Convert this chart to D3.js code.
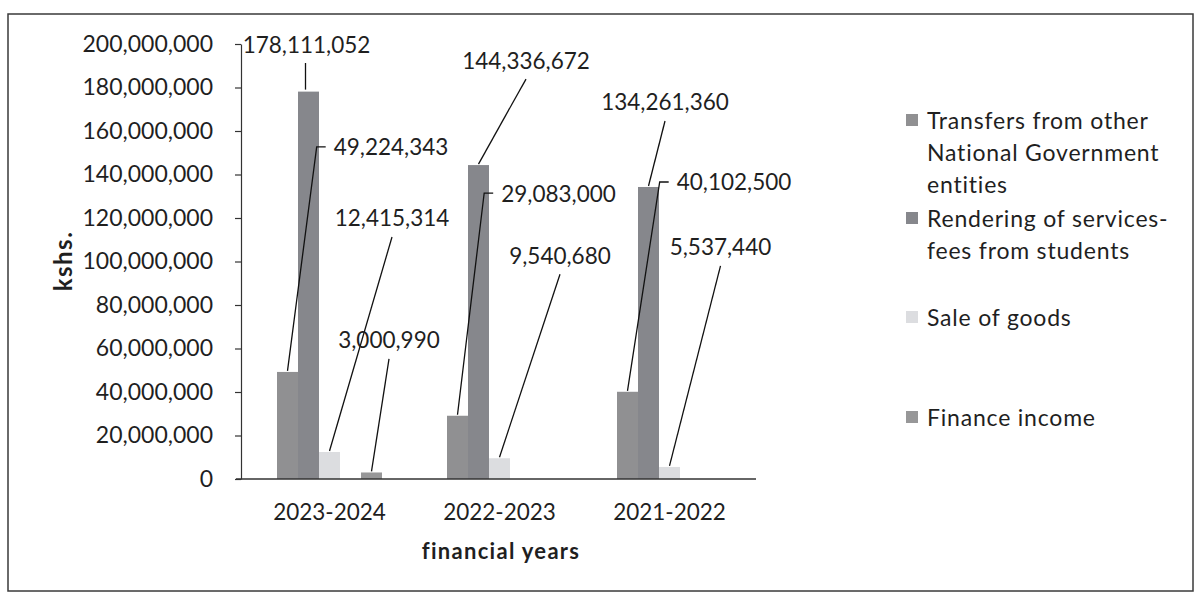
<!DOCTYPE html>
<html>
<head>
<meta charset="utf-8">
<script src="https://cdn.jsdelivr.net/npm/d3@7/dist/d3.min.js"></script>
<style>
  body { margin: 0; background: #ffffff; }
  svg text { font-family: Lato, "Open Sans", sans-serif; fill: #1f1f1f; }
</style>
</head>
<body>
<svg id="chart" width="1203" height="594"></svg>
<script>
// Revenue by source, per financial year (Kshs.)
const years = ["2023-2024", "2022-2023", "2021-2022"];
const transfers = [49224343, 29083000, 40102500];
const rendering = [178111052, 144336672, 134261360];
const saleOfGoods = [12415314, 9540680, 5537440];
const financeIncome = [3000990, null, null];

const seriesKeys = ["transfers", "rendering", "sale", "finance"];
const seriesLegend = [
  ["Transfers from other", "National Government", "entities"],
  ["Rendering of services-", "fees from students"],
  ["Sale of goods"],
  ["Finance income"]
];
const seriesColors = ["#909092", "#86878c", "#dcdde0", "#979798"];
const yTicks = [0, 20000000, 40000000, 60000000, 80000000, 100000000,
                120000000, 140000000, 160000000, 180000000, 200000000];

// Label placement: offset of each value label's centre from its bar top
const labelOffsets = {
  transfers: [[103.5, -225], [101, -222.7], [106.5, -209.8]],
  rendering: [[-2, -47.6], [47.5, -105], [16.5, -85]],
  sale:      [[62.5, -234], [60.5, -203], [51, -220]],
  finance:   [[17.5, -132.5], null, null]
};

const valuesByKey = { transfers, rendering, sale: saleOfGoods, finance: financeIncome };

const svg = d3.select("#chart");
const fmt = d3.format(",");

// frame
svg.append("rect")
  .attr("x", 8).attr("y", 14).attr("width", 1185).attr("height", 577)
  .attr("fill", "#fff").attr("stroke", "#3a3a3a").attr("stroke-width", 1.5);

const y = d3.scaleLinear().domain([0, 200000000]).range([479, 44]);
const x = d3.scaleBand().domain(years).range([244.5, 754.5]);
// bar slots inside each year group (an empty slot sits before Finance income)
const slot = d3.scaleBand()
  .domain(["transfers", "rendering", "sale", "gap", "finance"])
  .range([-52.5, 52.5]);

// y axis
const yAxis = svg.append("g")
  .attr("transform", "translate(241,0)")
  .call(d3.axisLeft(y).tickValues(yTicks).tickFormat(fmt).tickSize(6).tickSizeOuter(0).tickPadding(22));
yAxis.selectAll("path, line").attr("stroke", "#333").attr("stroke-width", 1.2);
yAxis.selectAll("text").style("font-size", "23px").attr("fill", "#1f1f1f");

// bars
const bars = [];
seriesKeys.forEach((key, si) => {
  valuesByKey[key].forEach((v, yi) => {
    if (v == null) return;
    bars.push({ key, si, yi, year: years[yi], value: v });
  });
});

svg.append("g").selectAll("rect")
  .data(bars)
  .join("rect")
  .attr("x", d => x(d.year) + x.bandwidth() / 2 + slot(d.key))
  .attr("y", d => y(d.value))
  .attr("width", slot.bandwidth())
  .attr("height", d => y(0) - y(d.value))
  .attr("fill", d => seriesColors[d.si]);

// x axis
const xAxis = svg.append("g")
  .attr("transform", "translate(0,479)")
  .call(d3.axisBottom(x).tickSize(0).tickSizeOuter(0).tickPadding(25));
xAxis.select(".domain").attr("d", "M236,0H756").attr("stroke", "#333").attr("stroke-width", 1.4);
xAxis.selectAll("text").style("font-size", "22.5px").attr("fill", "#1f1f1f");

// value labels with leader lines
const labelLayer = svg.append("g");
bars.forEach(d => {
  const off = labelOffsets[d.key][d.yi];
  if (!off) return;
  const bx = x(d.year) + x.bandwidth() / 2 + slot(d.key) + slot.bandwidth() / 2;
  const by = y(d.value);
  const cx = bx + off[0], cy = by + off[1];
  const t = labelLayer.append("text")
    .attr("x", cx).attr("y", cy)
    .attr("text-anchor", "middle").attr("dominant-baseline", "central")
    .style("font-size", "22.5px")
    .text(fmt(d.value));
  let path;
  if (d.key === "transfers") {
    const left = cx - t.node().getComputedTextLength() / 2;
    path = `M${left - 8},${cy}H${left - 17}L${bx},${by - 1}`;
  } else if (d.key === "rendering" && d.yi === 0) {
    path = `M${bx - 3},${cy + 19}L${bx - 3},${by - 2}`;
  } else {
    path = `M${cx},${cy + 19}L${bx},${by - 1}`;
  }
  labelLayer.append("path").attr("d", path)
    .attr("fill", "none").attr("stroke", "#111").attr("stroke-width", 1.3);
});

// axis titles
svg.append("text")
  .attr("transform", "translate(62,261) rotate(-90)")
  .attr("text-anchor", "middle").attr("dominant-baseline", "central")
  .style("font-size", "24px").style("font-weight", "bold").style("letter-spacing", "1.5px")
  .text("kshs.");
svg.append("text")
  .attr("x", 501).attr("y", 550)
  .attr("text-anchor", "middle").attr("dominant-baseline", "central")
  .style("font-size", "22px").style("font-weight", "bold").style("letter-spacing", "1.3px")
  .text("financial years");

// legend
const legendTops = [120, 218, 317, 417];
const legend = svg.append("g");
seriesKeys.forEach((key, i) => {
  const g = legend.append("g");
  g.append("rect")
    .attr("x", 906).attr("y", legendTops[i] - 6)
    .attr("width", 12).attr("height", 12)
    .attr("fill", seriesColors[i]);
  seriesLegend[i].forEach((line, li) => {
    g.append("text")
      .attr("x", 927).attr("y", legendTops[i] + li * 32)
      .attr("dominant-baseline", "central")
      .style("font-size", "23px").style("letter-spacing", "0.8px")
      .text(line);
  });
});
</script>
</body>
</html>
